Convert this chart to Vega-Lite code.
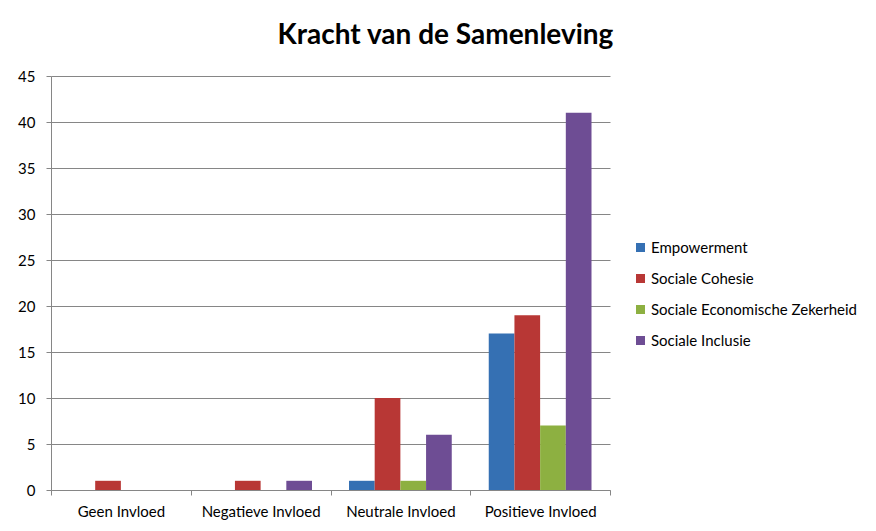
{
  "$schema": "https://vega.github.io/schema/vega-lite/v6.json",
  "width": 559,
  "height": 414,
  "autosize": "none",
  "padding": {"left": 51, "top": 76, "right": 266, "bottom": 41},
  "background": "white",
  "title": {
    "text": "Kracht van de Samenleving",
    "font": "Lato",
    "fontSize": 28,
    "fontWeight": "bold",
    "color": "#000000",
    "anchor": "middle",
    "dx": 115,
    "offset": 19
  },
  "data": {
    "values": [
      {"cat": "Geen Invloed", "serie": "Empowerment", "v": 0},
      {"cat": "Geen Invloed", "serie": "Sociale Cohesie", "v": 1},
      {"cat": "Geen Invloed", "serie": "Sociale Economische Zekerheid", "v": 0},
      {"cat": "Geen Invloed", "serie": "Sociale Inclusie", "v": 0},
      {"cat": "Negatieve Invloed", "serie": "Empowerment", "v": 0},
      {"cat": "Negatieve Invloed", "serie": "Sociale Cohesie", "v": 1},
      {"cat": "Negatieve Invloed", "serie": "Sociale Economische Zekerheid", "v": 0},
      {"cat": "Negatieve Invloed", "serie": "Sociale Inclusie", "v": 1},
      {"cat": "Neutrale Invloed", "serie": "Empowerment", "v": 1},
      {"cat": "Neutrale Invloed", "serie": "Sociale Cohesie", "v": 10},
      {"cat": "Neutrale Invloed", "serie": "Sociale Economische Zekerheid", "v": 1},
      {"cat": "Neutrale Invloed", "serie": "Sociale Inclusie", "v": 6},
      {"cat": "Positieve Invloed", "serie": "Empowerment", "v": 17},
      {"cat": "Positieve Invloed", "serie": "Sociale Cohesie", "v": 19},
      {"cat": "Positieve Invloed", "serie": "Sociale Economische Zekerheid", "v": 7},
      {"cat": "Positieve Invloed", "serie": "Sociale Inclusie", "v": 41}
    ]
  },
  "mark": {"type": "bar"},
  "encoding": {
    "x": {
      "field": "cat",
      "type": "nominal",
      "sort": null,
      "scale": {"paddingInner": 0, "paddingOuter": 0},
      "axis": {
        "title": null,
        "labelAngle": 0,
        "labelFont": "Lato",
        "labelFontSize": 15,
        "labelColor": "#000000",
        "labelPadding": 9,
        "tickBand": "extent",
        "tickColor": "#868686",
        "tickSize": 5,
        "domainColor": "#868686",
        "grid": false
      }
    },
    "xOffset": {
      "field": "serie",
      "type": "nominal",
      "scale": {"paddingInner": 0, "paddingOuter": 0.72}
    },
    "y": {
      "field": "v",
      "type": "quantitative",
      "scale": {"domain": [0, 45], "nice": false},
      "axis": {
        "title": null,
        "values": [0, 5, 10, 15, 20, 25, 30, 35, 40, 45],
        "labelFont": "Lato",
        "labelFontSize": 15,
        "labelColor": "#000000",
        "labelPadding": 11,
        "tickColor": "#868686",
        "tickSize": 5,
        "domainColor": "#868686",
        "gridColor": "#868686",
        "gridOpacity": 1
      }
    },
    "color": {
      "field": "serie",
      "type": "nominal",
      "scale": {
        "domain": ["Empowerment", "Sociale Cohesie", "Sociale Economische Zekerheid", "Sociale Inclusie"],
        "range": ["#3570B3", "#B83735", "#8DB041", "#6E4D94"]
      },
      "legend": {
        "title": null,
        "orient": "none",
        "legendX": 582,
        "legendY": 164,
        "symbolType": "square",
        "symbolSize": 81,
        "symbolStrokeWidth": 0,
        "labelFont": "Lato",
        "labelFontSize": 15,
        "labelColor": "#000000",
        "labelOffset": 3,
        "labelLimit": 300,
        "rowPadding": 15
      }
    }
  },
  "config": {
    "view": {"stroke": null}
  }
}
